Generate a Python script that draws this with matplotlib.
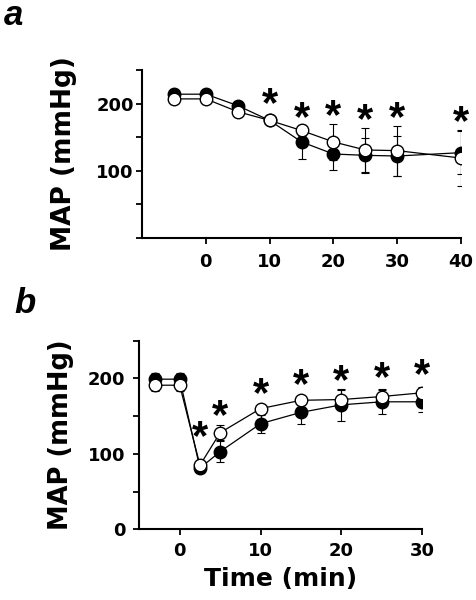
import matplotlib
matplotlib.use("Agg")
import matplotlib.pyplot as plt

# ---- Panel a data ----
a_time = [-5, 0, 5, 10, 15, 20, 25, 30, 40]
a_filled = [214, 214, 197, 175, 143, 125, 123, 122, 127]
a_filled_err = [3, 3, 5, 6, 25, 24, 26, 30, 32]
a_open = [207, 207, 188, 175, 160, 143, 131, 130, 119]
a_open_err = [3, 3, 5, 6, 8, 27, 33, 37, 41]
a_star_x = [10, 15, 20, 25, 30, 40]
a_star_y = [208, 187, 189, 183, 187, 181]

# ---- Panel b data ----
b_time = [-3, 0, 2.5, 5, 10, 15, 20, 25, 30]
b_filled = [199, 199, 81, 103, 140, 155, 165, 169, 169]
b_filled_err = [8, 8, 6, 14, 12, 16, 21, 16, 14]
b_open = [191, 191, 85, 128, 160, 171, 172, 176, 181]
b_open_err = [8, 8, 5, 10, 5, 5, 12, 10, 8]
b_star_x = [2.5, 5, 10, 15, 20, 25, 30]
b_star_y = [129, 157, 186, 198, 203, 207, 211]

plt.rcParams['font.family'] = ['DejaVu Sans']
plt.rcParams['font.weight'] = 'bold'

fig = plt.figure(figsize=(4.77, 6.0), dpi=100)

def style(ax):
    for s in ['top', 'right']:
        ax.spines[s].set_visible(False)
    for s in ['left', 'bottom']:
        ax.spines[s].set_linewidth(1.5)
    ax.tick_params(direction='out', length=4, width=1.3, labelsize=13)
    for lab in ax.get_xticklabels() + ax.get_yticklabels():
        lab.set_fontweight('bold')

def draw(ax, t, f, fe, o, oe, sx, sy):
    ax.errorbar(t, f, yerr=fe, fmt='-o', color='black', mfc='black', mec='black',
                ms=9, lw=0.9, elinewidth=0.8, capsize=3, capthick=0.8, zorder=3)
    ax.errorbar(t, o, yerr=oe, fmt='-o', color='black', mfc='white', mec='black',
                ms=9, lw=0.9, elinewidth=0.8, capsize=3, capthick=0.8, zorder=4)
    for x, y in zip(sx, sy):
        ax.annotate('*', xy=(x, y), xytext=(0, -12.5), textcoords='offset points',
                    ha='center', va='baseline', fontsize=30, fontweight='bold',
                    family='Liberation Sans')

# Panel a
axa = fig.add_axes([142/477, 1-238/600, 319/477, 168/600])
draw(axa, a_time, a_filled, a_filled_err, a_open, a_open_err, a_star_x, a_star_y)
axa.set_xlim(-10, 40)
axa.set_ylim(0, 250)
axa.set_xticks([0, 10, 20, 30, 40])
axa.set_yticks([0, 50, 100, 150, 200, 250])
axa.set_yticklabels(['', '', '100', '', '200', ''])
style(axa)
axa.tick_params(axis='x', pad=7)
axa.tick_params(axis='y', pad=2)
axa.set_ylabel('MAP (mmHg)', fontsize=19, fontweight='bold', labelpad=14)

# Panel b
axb = fig.add_axes([139.3/477, 1-529.3/600, 283/477, 188.6/600])
draw(axb, b_time, b_filled, b_filled_err, b_open, b_open_err, b_star_x, b_star_y)
axb.set_xlim(-5, 30)
axb.set_ylim(0, 250)
axb.set_xticks([0, 10, 20, 30])
axb.set_yticks([0, 50, 100, 150, 200, 250])
axb.set_yticklabels(['0', '', '100', '', '200', ''])
style(axb)
axb.tick_params(axis='x', pad=5)
axb.tick_params(axis='y', pad=6)
axb.set_ylabel('MAP (mmHg)', fontsize=18.5, fontweight='bold', labelpad=10)
axb.set_xlabel('Time (min)', fontsize=18, fontweight='bold', labelpad=5)

fig.text(4/477, 1-25/600, 'a', fontsize=25, fontweight='bold', style='italic',
         family='Liberation Sans')
fig.text(14/477, 1-313/600, 'b', fontsize=25, fontweight='bold', style='italic',
         family='Liberation Sans')

fig.savefig('out.png', dpi=100)
